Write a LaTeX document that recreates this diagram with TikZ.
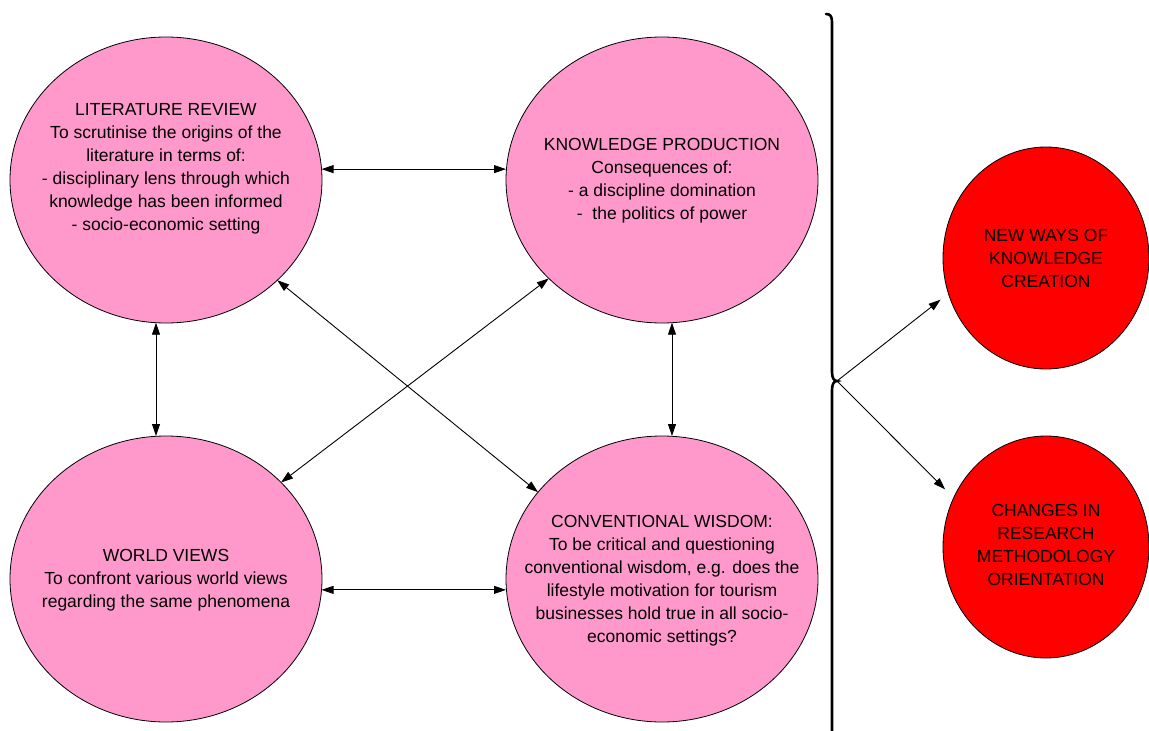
\documentclass[tikz,border=0pt]{standalone}
\usepackage{fontspec}
\setmainfont{Liberation Sans}
\usetikzlibrary{shapes.geometric,arrows.meta}
\definecolor{bubblepink}{HTML}{FF99CC}
\definecolor{bubblered}{HTML}{FF0000}
\begin{document}
\begin{tikzpicture}[x=1pt,y=-1pt,
  bubble/.style={ellipse,draw=black,line width=0.8pt,fill=bubblepink,
    minimum width=312pt,minimum height=286pt,inner sep=0pt,outer sep=0pt},
  outcome/.style={ellipse,draw=black,line width=0.8pt,fill=bubblered,
    minimum width=206pt,minimum height=222pt,inner sep=0pt,outer sep=0pt},
  caption/.style={align=center,font=\fontsize{17.5}{23}\selectfont,inner sep=0pt},
  link/.style={line width=0.9pt,{Triangle[length=12pt,width=8pt]}-{Triangle[length=12pt,width=8pt]}},
  lead/.style={line width=0.9pt,-{Triangle[length=12pt,width=8pt]}},
  brace/.style={line width=2.6pt,line cap=round},
]
\useasboundingbox (0,0) rectangle (1149,731);

% the four themes
\node[bubble] (lr) at (166,180) {};
\node[bubble] (kp) at (662,180) {};
\node[bubble] (wv) at (166,579) {};
\node[bubble] (cw) at (662,579) {};

\node[caption] (lrtext) at (166,169) {LITERATURE REVIEW\\To scrutinise the origins of the\\literature in terms of:\\- disciplinary lens through which\\knowledge has been informed\\- socio-economic setting};
\node[caption] (kptext) at (662,181) {KNOWLEDGE PRODUCTION\\Consequences of:\\- a discipline domination\\- \ the politics of power};
\node[caption] (wvtext) at (166,580) {WORLD VIEWS\\To confront various world views\\regarding the same phenomena};
\node[caption] (cwtext) at (662,581) {CONVENTIONAL WISDOM:\\To be critical and questioning\\conventional wisdom, e.g. does the\\lifestyle motivation for tourism\\businesses hold true in all socio-\\economic settings?};

% two-way links between the themes (straight ones kept axis-parallel)
\draw[link] (lr.4.4) -- (lr.4.4 -| kp.west);
\draw[link] (wv.356) -- (wv.356 -| cw.west);
\draw[link] (lr.266.4) -- (lr.266.4 |- wv.north);
\draw[link] (kp.274.4) -- (kp.274.4 |- cw.north);
\draw[link] (lr.318.7) -- (cw.145);
\draw[link] (kp.221.3) -- (wv.40.4);

% brace gathering the themes
\coordinate (bracetip) at (837,381);
\draw[brace] (826,14) .. controls (830,14) and (832,16) .. (832,22)
  -- (832,372) .. controls (832,378) and (834,381) .. (bracetip)
  .. controls (834,381) and (832,384) .. (832,390) -- (832,740);

% outcomes
\node[outcome] (nw) at (1046,258) {};
\node[outcome] (ch) at (1046,547) {};
\node[caption] (nwtext) at (1046,258) {NEW WAYS OF\\KNOWLEDGE\\CREATION};
\node[caption] (chtext) at (1046,545) {CHANGES IN\\RESEARCH\\METHODOLOGY\\ORIENTATION};

\draw[lead,shorten >=10pt] (bracetip) -- (nw.200);
\draw[lead,shorten >=12pt] (bracetip) -- (ch.152.6);
\end{tikzpicture}
\end{document}
